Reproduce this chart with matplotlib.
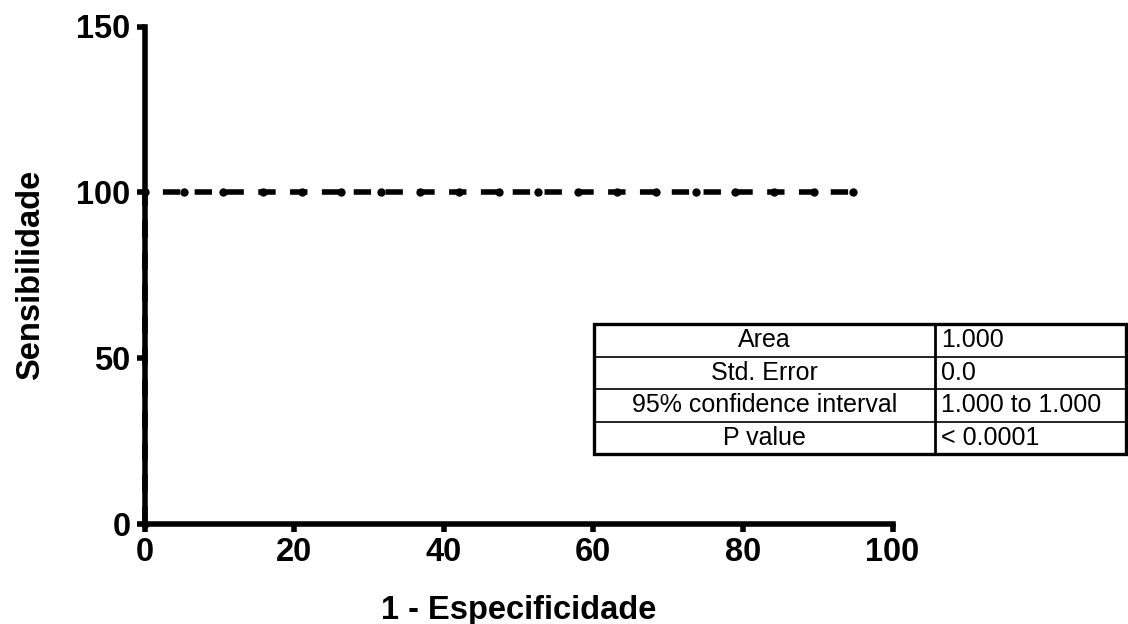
import matplotlib
matplotlib.use("Agg")
import matplotlib.pyplot as plt
from matplotlib.lines import Line2D
from matplotlib.patches import Rectangle

plt.rcParams['font.family'] = ['Liberation Sans', 'DejaVu Sans']
plt.rcParams['lines.scale_dashes'] = False

# ROC curve points (1 - specificity, sensitivity), in %
fpr = [0, 0, 5.26, 10.53, 15.79, 21.05, 26.32, 31.58, 36.84, 42.11, 47.37,
       52.63, 57.89, 63.16, 68.42, 73.68, 78.95, 84.21, 89.47, 94.74]
tpr = [0, 100, 100, 100, 100, 100, 100, 100, 100, 100, 100,
       100, 100, 100, 100, 100, 100, 100, 100, 100]

x_ticks = [0, 20, 40, 60, 80, 100]
y_ticks = [0, 50, 100, 150]

# Summary table
table_labels = ["Area", "Std. Error", "95% confidence interval", "P value"]
table_values = ["1.000", "0.0", "1.000 to 1.000", "< 0.0001"]

W, H = 1128, 624
fig = plt.figure(figsize=(W / 100, H / 100), dpi=100)
ax = fig.add_axes([144.5 / W, 1 - 523.5 / H, (892.5 - 144.5) / W, (523.5 - 26.5) / H])

ax.plot(fpr, tpr, color='black', lw=4, dashes=(12.5, 10.4),
        marker='o', markersize=5, clip_on=False, zorder=3)

ax.set_xlim(0, 100)
ax.set_ylim(0, 150)
ax.set_xticks(x_ticks)
ax.set_yticks(y_ticks)
for s in ['top', 'right']:
    ax.spines[s].set_visible(False)
for s in ['left', 'bottom']:
    ax.spines[s].set_linewidth(4)
    ax.spines[s].set_capstyle('projecting')
ax.tick_params(axis='both', direction='out', length=6, width=4,
               labelsize=23.5, pad=4)
for lbl in ax.get_xticklabels() + ax.get_yticklabels():
    lbl.set_fontweight('bold')

ax.set_xlabel("1 - Especificidade", fontsize=23.5, fontweight='bold', labelpad=19)
ax.set_ylabel("Sensibilidade", fontsize=23.5, fontweight='bold', labelpad=22)

# table drawn in figure pixels
left, split, right = 594, 935, 1126
rows = [324, 356.5, 389, 421.5, 454]


def fx(px):
    return px / W


def fy(py):
    return 1 - py / H


for i in range(1, 4):
    fig.add_artist(Line2D([fx(left), fx(right)], [fy(rows[i])] * 2,
                          color='black', lw=1.2, transform=fig.transFigure))
fig.add_artist(Line2D([fx(split)] * 2, [fy(rows[0]), fy(rows[-1])],
                      color='black', lw=2, transform=fig.transFigure))
fig.add_artist(Rectangle((fx(left), fy(rows[-1])), fx(right) - fx(left),
                         fy(rows[0]) - fy(rows[-1]), fill=False,
                         edgecolor='black', lw=2.4, transform=fig.transFigure))

for i, (lab, val) in enumerate(zip(table_labels, table_values)):
    yc = fy((rows[i] + rows[i + 1]) / 2)
    fig.text(fx((left + split) / 2), yc, lab, fontsize=18, ha='center', va='center')
    fig.text(fx(split + 6), yc, val, fontsize=18, ha='left', va='center')

fig.savefig("out.png", dpi=100)
